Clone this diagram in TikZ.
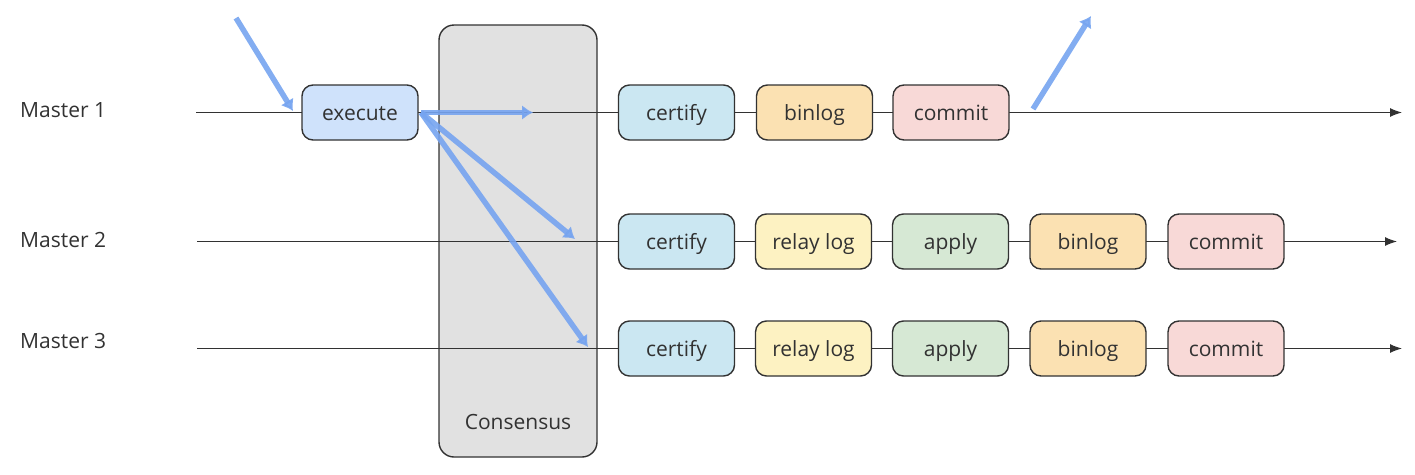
\documentclass[tikz,border=0pt]{standalone}
\usepackage{fontspec}
\setmainfont{Open Sans}
\usetikzlibrary{arrows.meta}
\definecolor{ink}{RGB}{50,50,50}
\definecolor{flow}{RGB}{118,164,240}
\definecolor{cexec}{RGB}{207,226,251}
\definecolor{ccert}{RGB}{203,231,242}
\definecolor{cbin}{RGB}{251,225,178}
\definecolor{ccom}{RGB}{248,217,215}
\definecolor{crelay}{RGB}{253,242,194}
\definecolor{capply}{RGB}{214,232,212}
\definecolor{cgray}{RGB}{225,225,225}
\tikzset{
  stage/.style={draw=ink, line width=1.4pt, rounded corners=11pt, minimum width=116pt, minimum height=55pt, inner sep=0pt, text=ink, font=\fontsize{21}{25}\selectfont, text height=17pt, text depth=2pt},
  lbl/.style={anchor=west, text=ink, inner sep=0pt, font=\fontsize{21}{25}\selectfont},
  tl/.style={draw=ink, line width=1.2pt},
  tlarrow/.style={tl, -{Latex[length=12pt,width=9pt]}},
  flowarrow/.style={draw=flow, line width=5.5pt, opacity=0.9, -{Latex[length=11pt,width=15pt]}}
}
\begin{document}
\begin{tikzpicture}[x=1pt,y=-1pt]
\useasboundingbox (0,0) rectangle (1415,474);
% consensus box
\node[draw=ink, line width=1.4pt, fill=cgray, rounded corners=15pt, minimum width=158pt, minimum height=432pt, inner sep=0pt] (cons) at (518,241) {};
\node[text=ink, font=\fontsize{21}{25}\selectfont] (constext) at (518,422) {Consensus};
% timelines
\coordinate (s1) at (196,112.5); \coordinate (e1) at (1402,112.5);
\coordinate (s2) at (197,241.5); \coordinate (e2) at (1397,241.5);
\coordinate (s3) at (197,348.5); \coordinate (e3) at (1402,348.5);
\draw[tlarrow] (s1) -- (e1);
\draw[tlarrow] (s2) -- (e2);
\draw[tlarrow] (s3) -- (e3);
% labels
\node[lbl] (m1) at (20,110) {Master 1};
\node[lbl] (m2) at (20,240) {Master 2};
\node[lbl] (m3) at (20,341) {Master 3};
% row 1
\node[stage, fill=cexec] (exec) at (360,112.5) {execute};
\node[stage, fill=ccert] (c1) at (676.5,112.5) {certify};
\node[stage, fill=cbin] (b1) at (814.5,112.5) {binlog};
\node[stage, fill=ccom] (k1) at (951,112.5) {commit};
% row 2
\node[stage, fill=ccert] (c2) at (676.5,241.5) {certify};
\node[stage, fill=crelay] (r2) at (813.5,241.5) {relay log};
\node[stage, fill=capply] (a2) at (950.5,241.5) {apply};
\node[stage, fill=cbin] (b2) at (1088,241.5) {binlog};
\node[stage, fill=ccom] (k2) at (1226,241.5) {commit};
% row 3
\node[stage, fill=ccert] (c3) at (676.5,348.5) {certify};
\node[stage, fill=crelay] (r3) at (813.5,348.5) {relay log};
\node[stage, fill=capply] (a3) at (950.5,348.5) {apply};
\node[stage, fill=cbin] (b3) at (1088,348.5) {binlog};
\node[stage, fill=ccom] (k3) at (1226,348.5) {commit};
% flow arrows
\coordinate (in) at (236,18);
\coordinate (inend) at (293,111);
\coordinate (t1) at (533,112.5);
\coordinate (t2) at (575,239);
\coordinate (t3) at (588,347);
\coordinate (outs) at (1033,109);
\coordinate (oute) at (1091,16);
\coordinate (x0) at (421,112.5);
\draw[flowarrow] (in) -- (inend);
\draw[flowarrow] (x0) -- (t1);
\draw[flowarrow] (x0) -- (t2);
\draw[flowarrow] (x0) -- (t3);
\draw[flowarrow] (outs) -- (oute);
\end{tikzpicture}
\end{document}
